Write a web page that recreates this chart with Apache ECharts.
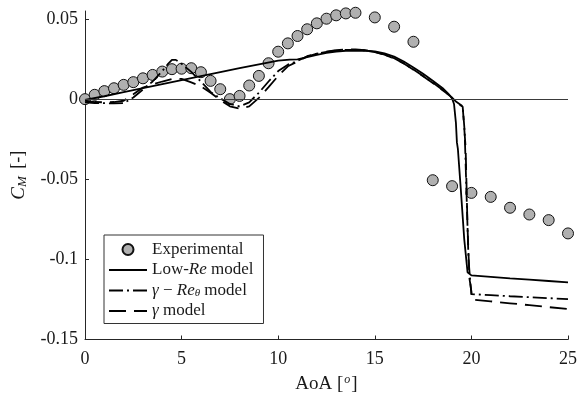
<!DOCTYPE html>
<html><head><meta charset="utf-8">
<script src="https://cdn.jsdelivr.net/npm/echarts@6/dist/echarts.min.js"></script>
<style>html,body{margin:0;padding:0;background:#fff}#c{width:580px;height:399px}</style>
</head><body><div id="c"></div>
<script>
var xTicks = [0, 5, 10, 15, 20, 25];
var yTicks = [-0.15, -0.1, -0.05, 0, 0.05];

var aoaExp = [0,0.5,1,1.5,2,2.5,3,3.5,4,4.5,5,5.5,6,6.5,7,7.5,8,8.5,9,9.5,10,10.5,11,11.5,12,12.5,13,13.5,14,15,16,17,18,19,20,21,22,23,24,25];
var cmExp = [0,0.0027,0.005,0.0068,0.0089,0.0106,0.013,0.0151,0.0172,0.0187,0.019,0.0193,0.0168,0.0114,0.0062,0,0.002,0.0085,0.0145,0.0224,0.0296,0.0348,0.0394,0.0436,0.0473,0.0502,0.0523,0.0535,0.0539,0.051,0.0452,0.0358,-0.0506,-0.0543,-0.0585,-0.061,-0.0678,-0.072,-0.0755,-0.0838];

var aoaLowRe = [0,1,2,3,4,5,6,7,8,9,10,10.6,11,11.5,12,12.5,13,13.5,14,14.5,15,15.5,16,16.5,17,17.5,18,18.5,18.8,19,19.1,19.2,19.25,19.3,19.45,19.63,19.8,20,21,22,23,24,25];
var cmLowRe = [-0.0005,0.0018,0.0043,0.0068,0.0093,0.0118,0.0143,0.0168,0.0193,0.0217,0.0240,0.0246,0.0248,0.0262,0.0276,0.0288,0.0297,0.0302,0.0303,0.0302,0.0298,0.0285,0.0265,0.0235,0.0198,0.0158,0.0115,0.007,0.0035,0.0005,-0.003,-0.015,-0.027,-0.031,-0.056,-0.0875,-0.108,-0.110,-0.1109,-0.1118,-0.1126,-0.1135,-0.1144];

var aoaGRt = [0,0.5,1,1.5,2,2.5,3,3.5,4,4.3,4.5,4.7,5,5.5,6,6.5,7,7.5,8,8.5,9,9.5,10,10.5,11,11.5,12,12.5,13,13.5,14,14.5,15,15.5,16,16.5,17,17.5,18,18.5,18.9,19.2,19.55,19.65,19.75,19.85,19.95,20,21,22,23,24,25];
var cmGRt = [-0.002,-0.0025,-0.0025,-0.0027,-0.0025,0.001,0.006,0.011,0.0175,0.022,0.0245,0.0245,0.022,0.017,0.011,0.0045,0.0005,-0.003,-0.0045,-0.002,0.004,0.011,0.0175,0.0215,0.0238,0.0268,0.0283,0.0295,0.0303,0.0307,0.0308,0.0304,0.0294,0.0278,0.0255,0.0223,0.0185,0.0145,0.0103,0.0058,0.0022,-0.0015,-0.0045,-0.02,-0.06,-0.1,-0.115,-0.1217,-0.1223,-0.123,-0.1236,-0.1242,-0.1248];

var aoaG = [0,0.5,1,1.5,2,2.5,3,3.5,4,4.5,5,5.5,6,6.5,7,7.5,8,8.5,9,9.5,10,10.5,11,11.5,12,12.5,13,13.5,14,14.5,15,15.5,16,16.5,17,17.5,18,18.5,18.9,19.2,19.55,19.7,19.8,19.9,20,20.02,21,22,23,24,25];
var cmG = [-0.001,-0.0018,-0.002,-0.0018,-0.001,0.003,0.0072,0.0092,0.011,0.0126,0.0127,0.0105,0.008,0.004,-0.0005,-0.0045,-0.006,-0.0045,0.0008,0.0075,0.0145,0.0205,0.0235,0.0266,0.0284,0.0297,0.0305,0.031,0.031,0.0305,0.0295,0.0278,0.0254,0.0222,0.0184,0.0143,0.0101,0.0057,0.002,-0.002,-0.0048,-0.03,-0.08,-0.112,-0.12,-0.125,-0.1262,-0.1274,-0.1286,-0.1298,-0.131];

var names = ['Experimental', 'Low-Re model', '\u03b3 \u2212 Re\u03b8 model', '\u03b3 model'];

function pairs(xs, ys) { return xs.map(function (x, i) { return [x, ys[i]]; }); }

var FONT = '"Liberation Serif", "Times New Roman", serif';
var INK = '#1a1a1a';
var noSym = {opacity: 0, color: 'rgba(0,0,0,0)', borderWidth: 0};

var chart = echarts.init(document.getElementById('c'), null, {renderer: 'canvas'});
chart.setOption({
  animation: false,
  backgroundColor: '#fff',
  textStyle: {fontFamily: FONT, color: INK},
  grid: {left: 85, right: 11, top: 11, bottom: 58, containLabel: false},
  xAxis: {
    type: 'value', min: 0, max: 25, interval: 5,
    name: 'AoA [{sup|o}]', nameLocation: 'middle', nameGap: 34,
    nameTextStyle: {fontFamily: FONT, fontSize: 19, color: INK,
      rich: {sup: {fontFamily: FONT, fontSize: 12, fontStyle: 'italic', color: INK, padding: [0, 1, 10, 1]}}},
    axisLine: {onZero: false, lineStyle: {color: '#262626', width: 1}},
    axisTick: {inside: true, length: 4, lineStyle: {color: '#262626'}, customValues: xTicks},
    axisLabel: {fontFamily: FONT, fontSize: 18, color: INK, margin: 11, customValues: xTicks},
    splitLine: {show: false}
  },
  yAxis: {
    type: 'value', min: -0.15, max: 0.055, interval: 0.05,
    name: '{i|C}{s|M} [-]', nameLocation: 'middle', nameGap: 56,
    nameTextStyle: {fontFamily: FONT, fontSize: 18, color: INK,
      rich: {i: {fontFamily: FONT, fontSize: 19, fontStyle: 'italic', color: INK},
             s: {fontFamily: FONT, fontSize: 13, fontStyle: 'italic', color: INK, padding: [8, 3, 0, 0]}}},
    axisLine: {show: true, lineStyle: {color: '#262626', width: 1}},
    axisTick: {inside: true, length: 4, lineStyle: {color: '#262626'}, customValues: yTicks},
    axisLabel: {fontFamily: FONT, fontSize: 18, color: INK, margin: 7, customValues: yTicks,
      formatter: function (v) { return Math.abs(v) < 1e-9 ? '0' : String(+v.toFixed(2)); }},
    splitLine: {show: false}
  },
  legend: {
    data: [
      {name: names[0]},
      {name: names[1], itemStyle: noSym},
      {name: names[2], itemStyle: noSym},
      {name: names[3], itemStyle: noSym}
    ],
    orient: 'vertical', left: 104, top: 235,
    itemWidth: 38, itemHeight: 11, itemGap: 3.5,
    padding: [6, 10, 4, 4],
    backgroundColor: '#fff', borderColor: '#333', borderWidth: 1, borderRadius: 0,
    textStyle: {fontFamily: FONT, fontSize: 17, color: INK, lineHeight: 17,
      rich: {
        n: {fontFamily: FONT, fontSize: 17, color: INK},
        i: {fontFamily: FONT, fontSize: 17, fontStyle: 'italic', color: INK},
        s: {fontFamily: FONT, fontSize: 11, fontStyle: 'italic', color: INK, padding: [6, 0, 0, 0]}
      }},
    formatter: function (n) {
      if (n === names[1]) return '{n|Low-}{i|Re}{n| model}';
      if (n === names[2]) return '{i|\u03b3}{n| \u2212 }{i|Re}{s|\u03b8}{n| model}';
      if (n === names[3]) return '{i|\u03b3}{n| model}';
      return '{n|' + n + '}';
    }
  },
  series: [
    {
      name: names[0], type: 'scatter', z: 2, clip: false,
      symbol: 'circle', symbolSize: 11,
      itemStyle: {color: '#b0b0b0', borderColor: '#111', borderWidth: 1, opacity: 1},
      data: pairs(aoaExp, cmExp),
      markLine: {silent: true, symbol: ['none', 'none'], label: {show: false},
        lineStyle: {color: '#3a3a3a', width: 1, type: 'solid'},
        data: [{yAxis: 0}]}
    },
    {
      name: names[1], type: 'line', z: 4, symbol: 'none', showSymbol: false,
      lineStyle: {color: '#000', width: 1.8, type: 'solid'},
      itemStyle: {color: '#000'},
      data: pairs(aoaLowRe, cmLowRe)
    },
    {
      name: names[2], type: 'line', z: 4, symbol: 'none', showSymbol: false,
      lineStyle: {color: '#000', width: 1.8, type: [14, 4, 2, 4]},
      itemStyle: {color: '#000'},
      data: pairs(aoaGRt, cmGRt)
    },
    {
      name: names[3], type: 'line', z: 4, symbol: 'none', showSymbol: false,
      lineStyle: {color: '#000', width: 1.8, type: [17, 8]},
      itemStyle: {color: '#000'},
      data: pairs(aoaG, cmG)
    }
  ]
});
</script></body></html>
